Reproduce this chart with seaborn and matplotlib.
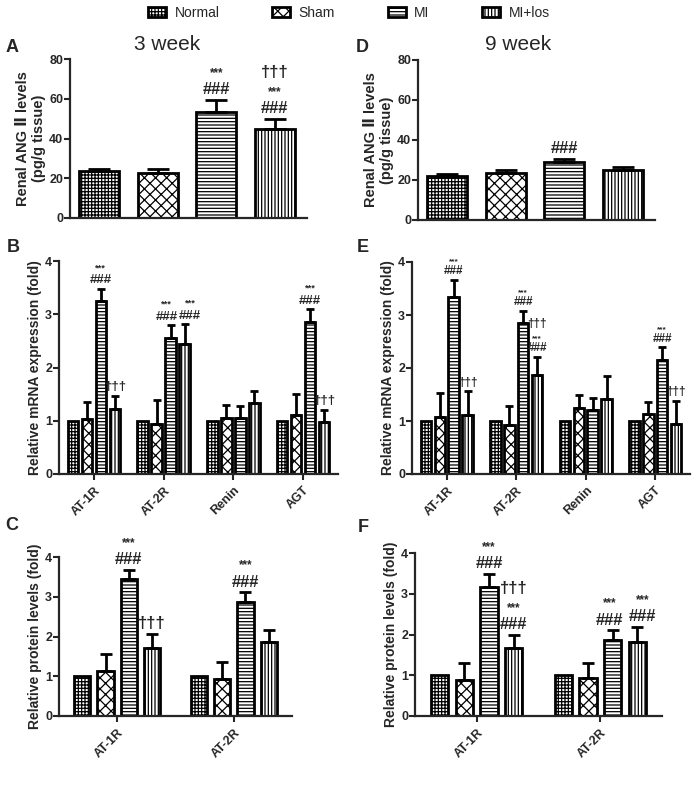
import numpy as np
import pandas as pd
import matplotlib
matplotlib.use("Agg")
import matplotlib.pyplot as plt
import seaborn as sns
from matplotlib.patches import Patch

sns.set_style("ticks")
plt.rcParams["font.family"] = ["Liberation Sans", "DejaVu Sans"]
plt.rcParams["font.weight"] = "bold"
plt.rcParams["hatch.linewidth"] = 0.9

groups = ["Normal", "Sham", "MI", "MI+los"]
hatches = ["+++++", "xxx", "-----", "|||||"]

# A / D : renal ANG II (pg/g tissue)
ang_3w = [23.6, 22.6, 53.4, 44.7]
ang_3w_err = [0.9, 1.9, 6.1, 5.0]
ang_3w_marks = [[], [], ["###", "***"], ["###", "***", "†††"]]
ang_9w = [22.1, 23.7, 28.9, 25.1]
ang_9w_err = [1.0, 1.2, 1.8, 1.3]
ang_9w_marks = [[], [], ["###"], []]

# B / E : mRNA, rows = group, cols = gene
genes = ["AT-1R", "AT-2R", "Renin", "AGT"]
mrna_3w = [[1, 1, 1, 1],
           [1.03, 0.93, 1.06, 1.11],
           [3.25, 2.56, 1.06, 2.86],
           [1.22, 2.45, 1.33, 0.98]]
mrna_3w_err = [[0, 0, 0, 0],
               [0.32, 0.46, 0.24, 0.39],
               [0.22, 0.23, 0.22, 0.23],
               [0.25, 0.36, 0.22, 0.23]]
mrna_3w_marks = [[[], [], [], []],
                 [[], [], [], []],
                 [["###", "***"], ["###", "***"], [], ["###", "***"]],
                 [["†††"], ["###", "***"], [], ["†††"]]]
mrna_9w = [[1, 1, 1, 1],
           [1.08, 0.93, 1.25, 1.13],
           [3.34, 2.85, 1.20, 2.16],
           [1.11, 1.86, 1.42, 0.94]]
mrna_9w_err = [[0, 0, 0, 0],
               [0.45, 0.36, 0.25, 0.22],
               [0.32, 0.23, 0.24, 0.23],
               [0.45, 0.35, 0.43, 0.44]]
mrna_9w_marks = [[[], [], [], []],
                 [[], [], [], []],
                 [["###", "***"], ["###", "***"], [], ["###", "***"]],
                 [["†††"], ["###", "***", "†††"], [], ["†††"]]]

# C / F : protein
proteins = ["AT-1R", "AT-2R"]
prot_3w = [[1, 1], [1.12, 0.92], [3.45, 2.87], [1.72, 1.85]]
prot_3w_err = [[0, 0], [0.44, 0.45], [0.23, 0.24], [0.34, 0.32]]
prot_3w_marks = [[[], []], [[], []], [["###", "***"], ["###", "***"]], [["†††"], []]]
prot_9w = [[1, 1], [0.88, 0.93], [3.16, 1.87], [1.66, 1.82]]
prot_9w_err = [[0, 0], [0.43, 0.36], [0.33, 0.23], [0.34, 0.37]]
prot_9w_marks = [[[], []], [[], []], [["###", "***"], ["###", "***"]],
                 [["###", "***", "†††"], ["###", "***"]]]

W, H = 698, 806
fig = plt.figure(figsize=(W / 100, H / 100), dpi=100)


def box(l, r, t, b):
    return [l / W, 1 - b / H, (r - l) / W, (b - t) / H]


def style(ax, ylim, yticks, ylabel, fs_lab=10):
    ax.set_ylim(*ylim)
    ax.set_yticks(yticks)
    sns.despine(ax=ax)
    for s in ["left", "bottom"]:
        ax.spines[s].set_linewidth(1.6)
    ax.tick_params(axis="y", width=1.5, length=4, labelsize=9, pad=1)
    ax.tick_params(axis="x", width=1.5, length=4, labelsize=9)
    ax.set_ylabel(ylabel, fontsize=fs_lab, fontweight="bold", labelpad=2)
    ax.set_xlabel("")
    for t in ax.get_yticklabels() + ax.get_xticklabels():
        t.set_fontweight("bold")


def stack(ax, x, y, labels, size, step, dx=0):
    off = 2
    for lab in labels:
        fs = size * 0.7 if lab == "***" else size
        ax.annotate(lab, (x, y), xytext=(dx, off), textcoords="offset points",
                    ha="center", va="bottom", fontsize=fs, fontweight="bold")
        off += step


def simple_panel(rect, vals, errs, marks, ylabel):
    ax = fig.add_axes(rect)
    sns.barplot(x=groups, y=vals, hue=groups, palette=["white"] * 4,
                edgecolor="black", linewidth=2, width=0.68, legend=False, ax=ax)
    xs = []
    for i, cont in enumerate(list(ax.containers)):
        for p in cont:
            p.set_hatch(hatches[i])
            xs.append(p.get_x() + p.get_width() / 2)
    ax.errorbar(xs, vals, yerr=[np.zeros(4), errs], fmt="none", ecolor="black",
                elinewidth=2, capsize=8, capthick=2, zorder=3)
    for x, v, e, m in zip(xs, vals, errs, marks):
        stack(ax, x, v + e, m, 12, 13)
    ax.set_xlim(-0.5, 3.55)
    style(ax, (0, 80), [0, 20, 40, 60, 80], ylabel, 10.5)
    ax.set_xticks([])
    return ax


def group_panel(rect, cats, vals, errs, marks, ylabel, gap, cap, size, step,
                nudge=None):
    nudge = nudge or {}
    ax = fig.add_axes(rect)
    df = pd.DataFrame([(c, g, vals[gi][ci]) for gi, g in enumerate(groups)
                       for ci, c in enumerate(cats)], columns=["cat", "group", "value"])
    sns.barplot(data=df, x="cat", y="value", hue="group", hue_order=groups,
                order=cats, palette=["white"] * 4, edgecolor="black", linewidth=2,
                gap=gap, width=0.8, errorbar=None, legend=False, ax=ax)
    conts = list(ax.containers)
    for gi, cont in enumerate(conts):
        bars = sorted(cont.patches, key=lambda p: p.get_x())
        for ci, p in enumerate(bars):
            p.set_hatch(hatches[gi])
            x = p.get_x() + p.get_width() / 2
            v, e = vals[gi][ci], errs[gi][ci]
            if e > 0:
                ax.errorbar([x], [v], yerr=[[0], [e]], fmt="none", ecolor="black",
                            elinewidth=2, capsize=cap, capthick=2, zorder=3)
            dx = nudge.get((cats[ci], groups[gi]), 0)
            stack(ax, x, v + e, marks[gi][ci], size, step, dx)
    ax.set_xlim(-0.5, len(cats) - 0.5)
    style(ax, (0, 4), [0, 1, 2, 3, 4], ylabel, 10)
    ax.set_xticks(range(len(cats)))
    ax.set_xticklabels(cats, rotation=45, ha="right", rotation_mode="anchor",
                       fontweight="bold", fontsize=9)
    return ax


ang_label = "Renal ANG Ⅱ levels\n(pg/g tissue)"
simple_panel(box(70, 307, 59, 218), ang_3w, ang_3w_err, ang_3w_marks, ang_label)
simple_panel(box(418, 655, 60, 220), ang_9w, ang_9w_err, ang_9w_marks, ang_label)

group_panel(box(59, 338, 261, 474), genes, mrna_3w, mrna_3w_err, mrna_3w_marks,
            "Relative mRNA expression (fold)", 0.25, 3, 9.5, 10,
            nudge={("AT-2R", "MI"): -3, ("AT-2R", "MI+los"): 4})
group_panel(box(412, 690, 262, 474), genes, mrna_9w, mrna_9w_err, mrna_9w_marks,
            "Relative mRNA expression (fold)", 0.25, 3, 8.5, 8.5)

group_panel(box(59, 292, 557, 716), proteins, prot_3w, prot_3w_err, prot_3w_marks,
            "Relative protein levels (fold)", 0.3, 4, 12, 13)
group_panel(box(415, 662, 553, 716), proteins, prot_9w, prot_9w_err, prot_9w_marks,
            "Relative protein levels (fold)", 0.3, 4, 12, 13,
            nudge={("AT-2R", "MI"): -2, ("AT-2R", "MI+los"): 4})

# titles and panel letters
fig.text(167 / W, 1 - 44 / H, "3 week", ha="center", va="center", fontsize=15,
         fontweight="normal")
fig.text(518 / W, 1 - 44 / H, "9 week", ha="center", va="center", fontsize=15,
         fontweight="normal")
for lab, x, y in [("A", 12, 47), ("D", 362, 47), ("B", 13, 247),
                  ("E", 363, 247), ("C", 12, 525), ("F", 363, 527)]:
    fig.text(x / W, 1 - y / H, lab, ha="center", va="center", fontsize=13,
             fontweight="bold")

handles = [Patch(facecolor="white", edgecolor="black", linewidth=2, hatch=h)
           for h in hatches]
fig.legend(handles, groups, loc="center", bbox_to_anchor=(0.5, 1 - 13 / H),
           ncol=4, frameon=False, handlelength=1.3,
           handleheight=0.8, columnspacing=3.8, handletextpad=0.6,
           prop={"weight": "normal", "size": 10})

fig.savefig("out.png", dpi=100)
